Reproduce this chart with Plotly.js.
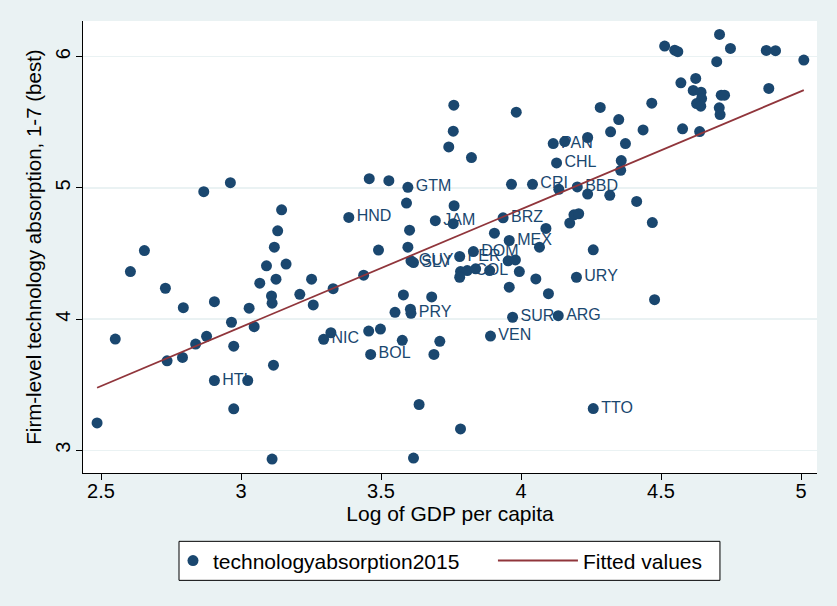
<!DOCTYPE html>
<html>
<head>
<meta charset="utf-8">
<script src="https://cdn.plot.ly/plotly-3.0.1.min.js"></script>
<style>html,body{margin:0;padding:0;background:#EAF2F3;}#chart{width:837px;height:606px;}</style>
</head>
<body>
<div id="chart"></div>
<script>
// Log of GDP per capita (x) and firm-level technology absorption (y)
const gdpLog = [
  2.867, 2.962, 3.145, 3.760, 3.983, 3.758, 3.742, 3.823, 4.115, 4.156,
  4.127, 3.458, 3.528, 3.596, 3.966, 4.041, 4.135, 3.591, 3.761, 3.385,
  3.694, 3.936, 4.709, 4.513, 4.549, 4.560, 4.748, 4.876, 4.909, 5.010,
  4.699, 4.571, 4.624, 4.615, 4.643, 4.645, 4.627, 4.642, 4.715, 4.727,
  4.885, 4.467, 4.283, 4.708, 4.711, 4.349, 4.320, 4.238, 4.436, 4.577,
  4.638, 4.373, 4.358, 4.356, 4.201, 4.238, 4.317, 4.413, 4.189, 4.206,
  4.174, 4.469, 4.258, 4.198, 4.477, 4.133, 4.258, 3.758, 4.089, 3.602,
  3.905, 3.958, 4.066, 3.491, 3.596, 3.830, 3.781, 3.607, 3.616, 3.954,
  3.980, 3.438, 3.329, 3.784, 3.808, 3.838, 3.888, 3.781, 3.994, 4.053,
  3.958, 4.098, 3.580, 3.681, 3.550, 3.605, 3.607, 3.970, 3.321, 3.295,
  3.456, 3.498, 3.576, 3.710, 3.891, 3.463, 3.689, 3.636, 3.784, 3.616,
  3.131, 3.119, 2.655, 2.605, 3.091, 3.161, 3.125, 3.067, 3.252, 2.730,
  3.109, 3.111, 3.210, 3.258, 2.794, 2.905, 3.029, 2.966, 3.047, 2.551,
  2.838, 2.877, 2.974, 2.736, 2.791, 3.116, 2.905, 3.024, 2.974, 2.486,
  3.111
];
const techAbsorption = [
  4.971, 5.040, 4.833, 5.630, 5.577, 5.432, 5.312, 5.231, 5.338, 5.353,
  5.190, 5.070, 5.055, 5.004, 5.027, 5.027, 4.989, 4.884, 4.864, 4.775,
  4.750, 4.772, 6.170, 6.081, 6.050, 6.038, 6.063, 6.048, 6.046, 5.974,
  5.962, 5.801, 5.834, 5.743, 5.729, 5.681, 5.643, 5.623, 5.707, 5.707,
  5.758, 5.646, 5.613, 5.610, 5.559, 5.521, 5.427, 5.384, 5.442, 5.450,
  5.429, 5.338, 5.208, 5.134, 5.007, 4.953, 4.943, 4.897, 4.795, 4.803,
  4.732, 4.736, 4.528, 4.319, 4.148, 4.026, 3.318, 4.727, 4.691, 4.678,
  4.655, 4.599, 4.548, 4.526, 4.548, 4.515, 4.477, 4.444, 4.431, 4.444,
  4.451, 4.335, 4.232, 4.362, 4.370, 4.383, 4.370, 4.319, 4.362, 4.306,
  4.243, 4.194, 4.184, 4.169, 4.052, 4.075, 4.044, 4.014, 3.896, 3.846,
  3.909, 3.924, 3.838, 3.831, 3.871, 3.731, 3.731, 3.349, 3.163, 2.941,
  4.673, 4.548, 4.522, 4.362, 4.406, 4.419, 4.304, 4.274, 4.304, 4.235,
  4.176, 4.121, 4.189, 4.108, 4.087, 4.133, 4.083, 3.976, 3.942, 3.848,
  3.810, 3.869, 3.794, 3.682, 3.708, 3.649, 3.532, 3.532, 3.316, 3.209,
  2.933
];
// Labelled Latin American & Caribbean countries
const labelCodes = ["PAN","CHL","GTM","CRI","HND","JAM","BRZ","BBD","URY","ARG","TTO","MEX","DOM","PER","GUY","SLV","COL","PRY","SUR","NIC","VEN","BOL","HTI"];
const labelX     = [4.115, 4.127, 3.596, 4.041, 3.385, 3.694, 3.936, 4.201, 4.198, 4.133, 4.258, 3.958, 3.830, 3.781, 3.607, 3.616, 3.808, 3.607, 3.970, 3.295, 3.891, 3.463, 2.905];
const labelY     = [5.338, 5.190, 5.004, 5.027, 4.775, 4.750, 4.772, 5.007, 4.319, 4.026, 3.318, 4.599, 4.515, 4.477, 4.444, 4.431, 4.370, 4.044, 4.014, 3.846, 3.871, 3.731, 3.532];
// Fitted values (linear fit) at the extremes of the sample
const fitX = [2.486, 5.010];
const fitY = [3.477, 5.745];
// Axis ticks
const xTicks = [2.5, 3, 3.5, 4, 4.5, 5];
const xTickText = ["2.5", "3", "3.5", "4", "4.5", "5"];
const yTicks = [3, 4, 5, 6];
const yTickText = ["3", "4", "5", "6"];

const navy = "#1a476f";
const maroon = "#90353b";
const font = "Liberation Sans, Arial, sans-serif";

const traces = [
  {
    x: labelX, y: labelY, text: labelCodes, type: "scatter", mode: "markers+text",
    textposition: "middle right",
    marker: {size: 11, color: "rgba(0,0,0,0)"},
    textfont: {family: font, size: 16, color: navy},
    showlegend: false, hoverinfo: "skip", cliponaxis: false
  },
  {
    x: gdpLog, y: techAbsorption, type: "scatter", mode: "markers",
    name: "technologyabsorption2015",
    marker: {size: 11, color: navy},
    legend: "legend"
  },
  {
    x: fitX, y: fitY, type: "scatter", mode: "lines",
    name: "Fitted values",
    line: {color: maroon, width: 1.8},
    legend: "legend2"
  }
];

const legendFont = {family: font, size: 21, color: "#000"};
const layout = {
  width: 837, height: 606,
  paper_bgcolor: "#EAF2F3", plot_bgcolor: "#ffffff",
  margin: {l: 83, r: 20, t: 21, b: 133.3},
  font: {family: font, color: "#000"},
  showlegend: true,
  legend: {
    orientation: "h", x: 0.1226, xanchor: "left", y: -0.1944, yanchor: "middle",
    bgcolor: "rgba(0,0,0,0)", borderwidth: 0, font: legendFont, itemwidth: 30
  },
  legend2: {
    orientation: "h", x: 0.5585, xanchor: "left", y: -0.1944, yanchor: "middle",
    bgcolor: "rgba(0,0,0,0)", borderwidth: 0, font: legendFont, itemwidth: 80
  },
  shapes: [{
    type: "rect", xref: "paper", yref: "paper",
    x0: 0.1308, x1: 0.8678, y0: -0.1512, y1: -0.2375,
    fillcolor: "#ffffff", line: {color: "#000", width: 1}, layer: "below"
  }],
  xaxis: {
    range: [2.4357, 5.0571], tickvals: xTicks, ticktext: xTickText,
    showgrid: false, zeroline: false, showline: true, linecolor: "#000", linewidth: 1,
    ticks: "outside", ticklen: 6, tickcolor: "#000", ticklabelstandoff: -6,
    tickfont: {family: font, size: 20, color: "#000"},
    title: {text: "Log of GDP per capita", font: {family: font, size: 21, color: "#000"}, standoff: 2},
    automargin: false
  },
  yaxis: {
    range: [2.827, 6.272], tickvals: yTicks, ticktext: yTickText, tickangle: -90,
    showgrid: true, gridcolor: "#EAF2F3", gridwidth: 1.5, zeroline: false,
    showline: true, linecolor: "#000", linewidth: 1,
    ticks: "outside", ticklen: 6, tickcolor: "#000", ticklabelstandoff: -2,
    tickfont: {family: font, size: 20, color: "#000"},
    title: {text: "Firm-level technology absorption, 1-7 (best)", font: {family: font, size: 20.5, color: "#000"}, standoff: 4},
    automargin: false
  }
};

Plotly.newPlot("chart", traces, layout, {displayModeBar: false, staticPlot: true});
</script>
</body>
</html>
